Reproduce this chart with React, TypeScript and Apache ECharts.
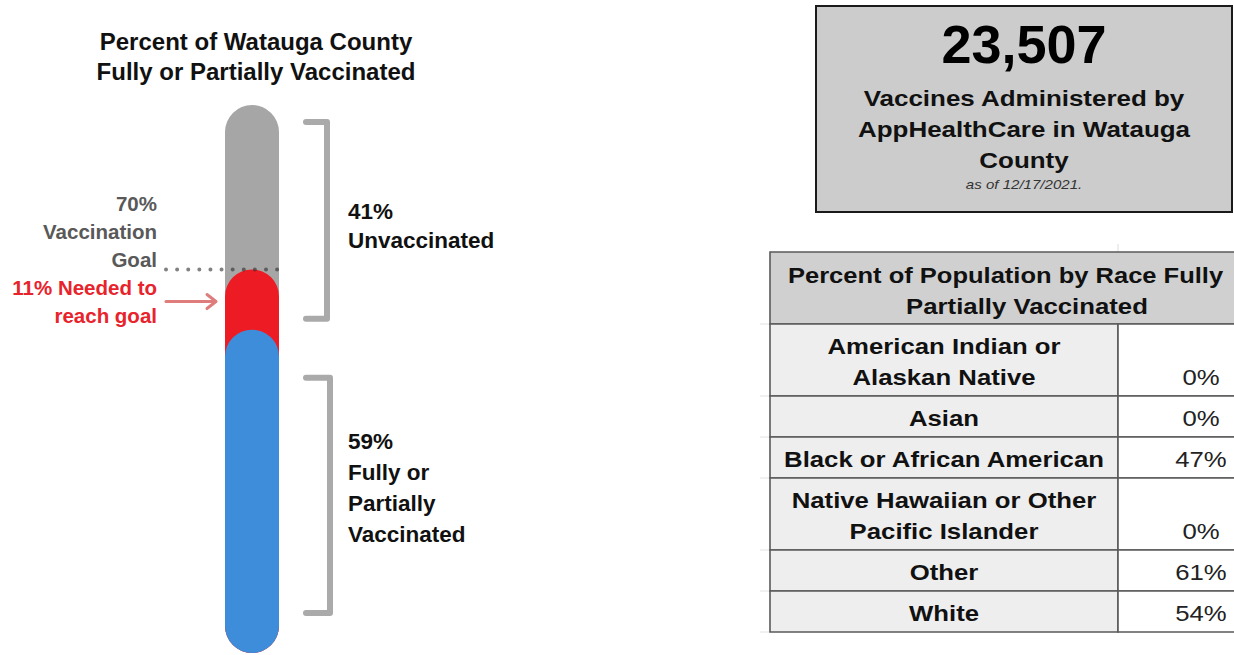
import React, { useEffect, useRef } from "react";
import * as echarts from "echarts";

// ---- data ----
const totalPct = 100;
const vaccinatedPct = 59;
const neededPct = 11;
const goalPct = 70;
const unvaccinatedPct = 41;
const thermoCategories = ["Watauga County"];

const titleLines = ["Percent of Watauga County", "Fully or Partially Vaccinated"];

const adminCount = "23,507";
const adminLines = ["Vaccines Administered by", "AppHealthCare in Watauga", "County"];
const asOfDate = "as of 12/17/2021.";

const tableHeader = ["Percent of Population by Race Fully", "Partially Vaccinated"];
const raceLabels = [
  "American Indian or\nAlaskan Native",
  "Asian",
  "Black or African American",
  "Native Hawaiian or Other\nPacific Islander",
  "Other",
  "White",
];
const racePct = [0, 0, 47, 0, 61, 54];

const FONT = '"Liberation Sans", Arial, sans-serif';

export default function App() {
  const ref = useRef<HTMLDivElement>(null);

  useEffect(() => {
    if (!ref.current) return;
    const chart = echarts.init(ref.current, undefined, { renderer: "svg" });

    const barCommon = {
      type: "bar" as const,
      barWidth: 54,
      barGap: "-100%",
      silent: true,
    };

    chart.setOption({
      animation: false,
      backgroundColor: "#ffffff",
      grid: { left: 225, top: 105, width: 54, height: 548 },
      xAxis: { type: "category", data: thermoCategories, show: false },
      yAxis: { type: "value", min: 0, max: 100, show: false },
      series: [
        { ...barCommon, name: "Total", data: [totalPct], itemStyle: { color: "#a6a6a6", borderRadius: 27 } },
        { ...barCommon, name: "Goal", data: [vaccinatedPct + neededPct], itemStyle: { color: "#ed1c24", borderRadius: 27 } },
        { ...barCommon, name: "Vaccinated", data: [vaccinatedPct], itemStyle: { color: "#3d8ddb", borderRadius: 27 } },
      ],
    });

    const yAt = (v: number) => chart.convertToPixel({ yAxisIndex: 0 }, v) as number;
    const yTop = yAt(totalPct);
    const yGoal = yAt(goalPct);
    const yVac = yAt(vaccinatedPct);
    const yZero = yAt(0);

    const els: any[] = [];
    const txt = (x: number, y: number, text: string, font: string, fill: string, align: string, extra: any = {}) => {
      els.push({
        type: "text",
        x,
        y,
        z: 100,
        ...extra,
        style: { text, font, fill, textAlign: align, textVerticalAlign: "middle" },
      });
    };

    // title
    titleLines.forEach((t, i) => txt(256, 41 + i * 30, t, `bold 24px ${FONT}`, "#111111", "center"));

    // goal label + dotted line
    const goalFont = `bold 20.5px ${FONT}`;
    [`${goalPct}%`, "Vaccination", "Goal"].forEach((t, i) =>
      txt(157, yGoal - 66 + i * 28, t, goalFont, "#595959", "right")
    );
    els.push({
      type: "line",
      z: 100,
      shape: { x1: 166, y1: yGoal, x2: 278, y2: yGoal },
      style: { stroke: "rgba(45,45,45,0.6)", lineWidth: 4, lineDash: [0.01, 11.1], lineCap: "round" },
    });

    // needed label + arrow
    const arrowY = (yGoal + yVac) / 2 + 2;
    [`${neededPct}% Needed to`, "reach goal"].forEach((t, i) =>
      txt(157, arrowY - 14 + i * 28, t, goalFont, "#e8232b", "right")
    );
    els.push({
      type: "line",
      z: 100,
      shape: { x1: 166, y1: arrowY, x2: 215, y2: arrowY },
      style: { stroke: "#df7c7c", lineWidth: 3, lineCap: "round" },
    });
    els.push({
      type: "polyline",
      z: 100,
      shape: { points: [[207, arrowY - 7], [216, arrowY], [207, arrowY + 7]] },
      style: { stroke: "#df7c7c", lineWidth: 3, lineCap: "round", lineJoin: "round", fill: "none" },
    });

    // brackets
    const bracket = (top: number, bot: number, x: number) => {
      els.push({
        type: "polyline",
        z: 100,
        shape: { points: [[306, top], [x, top], [x, bot], [306, bot]] },
        style: { stroke: "#aaaaaa", lineWidth: 6, lineCap: "round", lineJoin: "round", fill: "none" },
      });
    };
    const b1Top = yTop + 17;
    const b1Bot = yVac - 11;
    const b2Top = yVac + 48;
    const b2Bot = yZero - 40;
    bracket(b1Top, b1Bot, 327);
    bracket(b2Top, b2Bot, 330);

    const rightFont = `bold 22.5px ${FONT}`;
    const b1Mid = (b1Top + b1Bot) / 2 + 6;
    [`${unvaccinatedPct}%`, "Unvaccinated"].forEach((t, i) => txt(348, b1Mid - 14.5 + i * 29, t, rightFont, "#111111", "left"));
    const b2Mid = (b2Top + b2Bot) / 2 - 7;
    [`${vaccinatedPct}%`, "Fully or", "Partially", "Vaccinated"].forEach((t, i) =>
      txt(348, b2Mid - 46.5 + i * 31, t, rightFont, "#111111", "left")
    );

    // administered box
    els.push({
      type: "rect",
      z: 90,
      shape: { x: 816, y: 6, width: 416, height: 206 },
      style: { fill: "#cccccc", stroke: "#1a1a1a", lineWidth: 2 },
    });
    txt(1024, 44, adminCount, `bold 54px ${FONT}`, "#000000", "center");
    adminLines.forEach((t, i) =>
      txt(1024, 98 + i * 31, t, `bold 22px ${FONT}`, "#111111", "center", { scaleX: 1.18 })
    );
    txt(1024, 184, asOfDate, `italic 13px ${FONT}`, "#333333", "center", { scaleX: 1.16 });

    // table
    const tL = 770, tMid = 1118, tR = 1284;
    const border = { stroke: "#5a5a5a", lineWidth: 1.6 };
    els.push({ type: "rect", z: 90, shape: { x: tL, y: 252, width: tR - tL, height: 72 }, style: { fill: "#d0d0d0", ...border } });
    txt(788, 275, tableHeader[0], `bold 22px ${FONT}`, "#111111", "left", { scaleX: 1.16 });
    txt((tL + tR) / 2, 306, tableHeader[1], `bold 22px ${FONT}`, "#111111", "center", { scaleX: 1.17 });
    // faint spreadsheet gridlines
    els.push({ type: "line", z: 80, shape: { x1: tMid, y1: 244, x2: tMid, y2: 252 }, style: { stroke: "#dddddd", lineWidth: 1 } });
    let y = 324;
    raceLabels.forEach((lab, i) => {
      const lines = lab.split("\n");
      const h = lines.length === 2 ? 72 : 41;
      els.push({ type: "rect", z: 90, shape: { x: tL, y, width: tMid - tL, height: h }, style: { fill: "#eeeeee", ...border } });
      els.push({ type: "rect", z: 90, shape: { x: tMid, y, width: tR - tMid, height: h }, style: { fill: "#ffffff", ...border } });
      els.push({ type: "line", z: 80, shape: { x1: 760, y1: y, x2: tL, y2: y }, style: { stroke: "#e2e2e2", lineWidth: 1 } });
      lines.forEach((ln, j) =>
        txt((tL + tMid) / 2, y + 22 + j * 31, ln, `bold 22px ${FONT}`, "#111111", "center", { scaleX: 1.17 })
      );
      const vy = y + 22 + (lines.length - 1) * 31;
      txt(1201, vy, `${racePct[i]}%`, `22px ${FONT}`, "#222222", "center", { scaleX: 1.17 });
      y += h;
    });
    els.push({ type: "line", z: 80, shape: { x1: 760, y1: y, x2: tL, y2: y }, style: { stroke: "#e2e2e2", lineWidth: 1 } });

    chart.setOption({ graphic: els });

    return () => chart.dispose();
  }, []);

  return <div ref={ref} style={{ position: "absolute", left: 0, top: 0, width: 1234, height: 655 }} />;
}
